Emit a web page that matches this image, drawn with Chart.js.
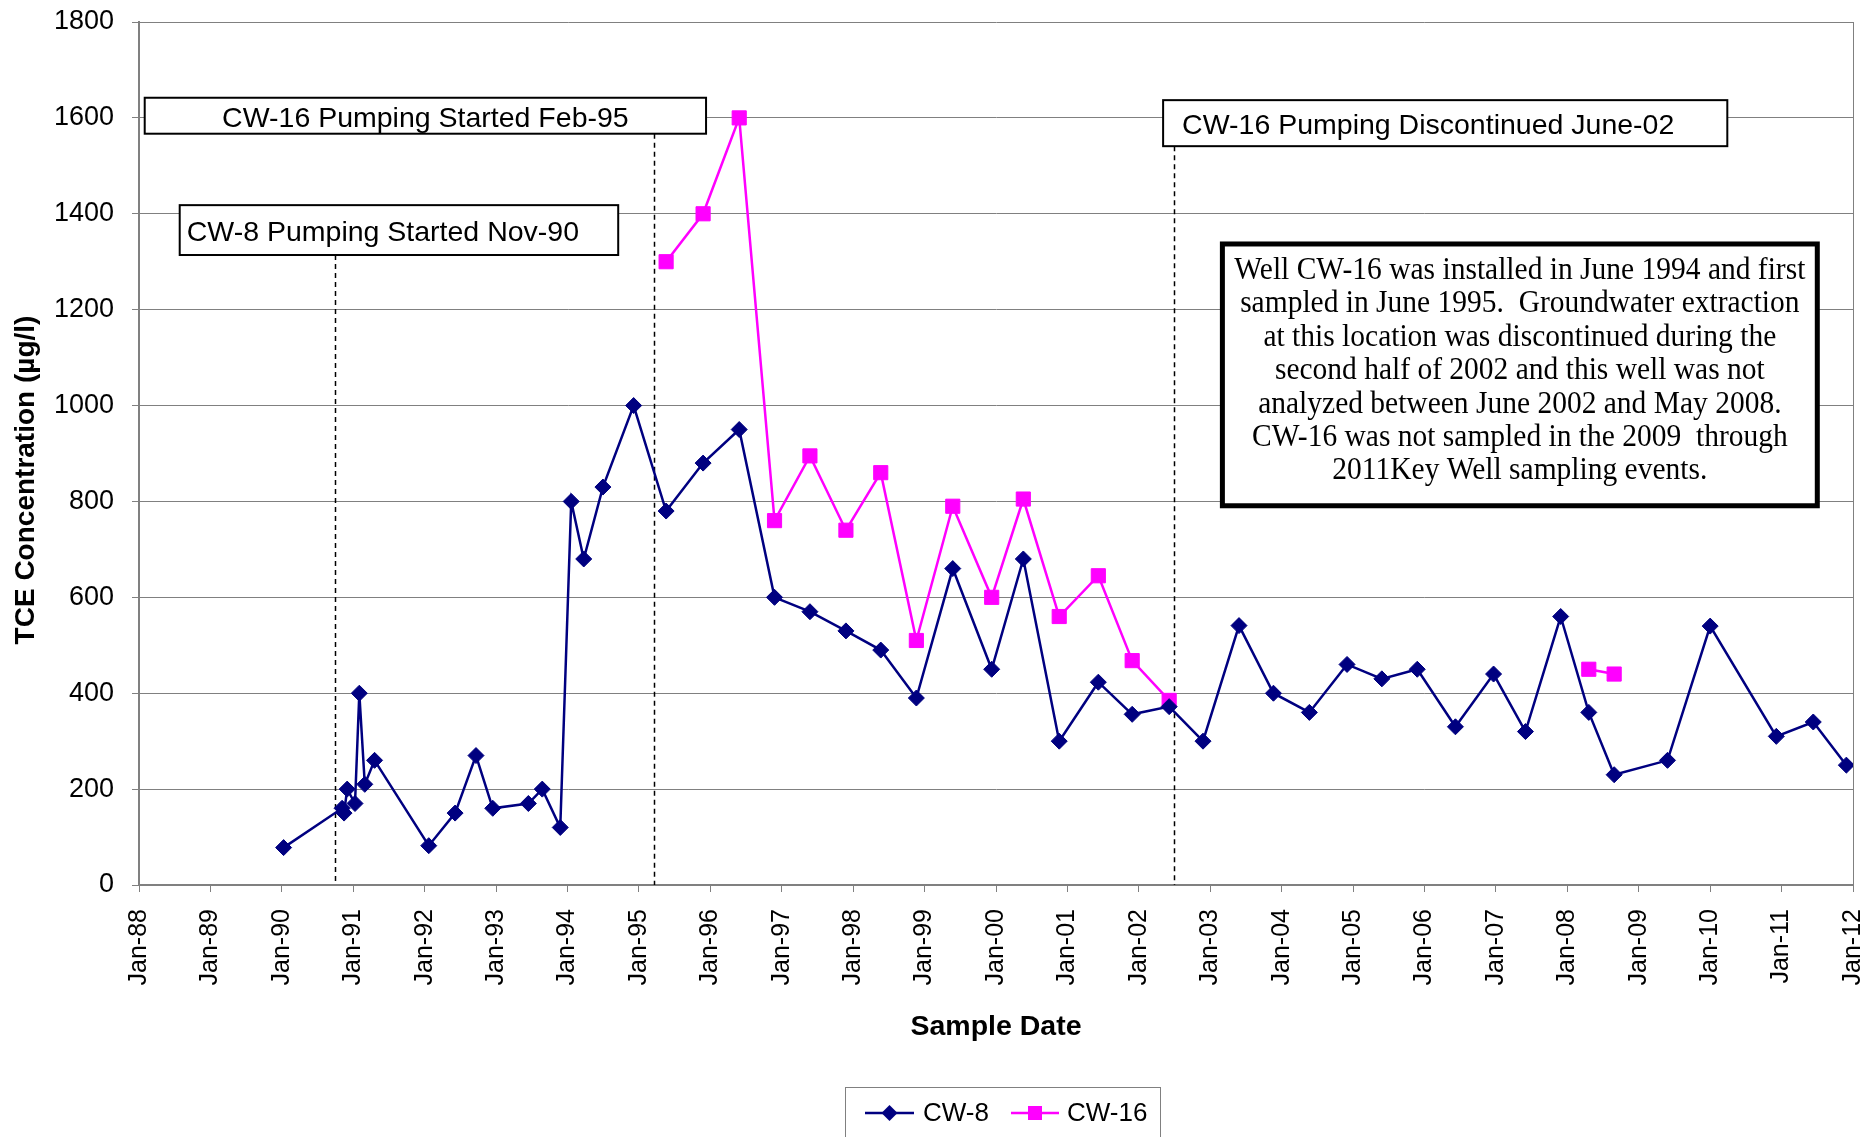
<!DOCTYPE html>
<html>
<head>
<meta charset="utf-8">
<title>TCE Concentration CW-8 / CW-16</title>
<script src="https://cdn.jsdelivr.net/npm/chart.js@4.4.1/dist/chart.umd.min.js"></script>
<style>
html, body { margin: 0; padding: 0; background: #fff; }
#wrap { width: 1866px; height: 1137px; position: relative; }
</style>
</head>
<body>
<div id="wrap"><canvas id="chart"></canvas></div>
<script>
// sample dates and TCE values (ug/l)
const cw8Dates = [
    '1990-01-10', '1990-11-05', '1990-11-15', '1990-12-01', '1991-01-10', '1991-02-01', '1991-03-01', '1991-04-20',
    '1992-01-22', '1992-06-05', '1992-09-20', '1992-12-15', '1993-06-15', '1993-08-25', '1993-11-25',
    '1994-01-20', '1994-03-25', '1994-07-01', '1994-12-05', '1995-05-20', '1995-11-25', '1996-05-28', '1996-11-25',
    '1997-05-25', '1997-11-25', '1998-05-22', '1998-11-20', '1999-05-25', '1999-12-10', '2000-05-20', '2000-11-20',
    '2001-06-08', '2001-11-28', '2002-06-05', '2002-11-25', '2003-05-28', '2003-11-20', '2004-05-22', '2004-12-01',
    '2005-05-28', '2005-11-25', '2006-06-08', '2006-12-20', '2007-06-01', '2007-11-28', '2008-04-20', '2008-08-28',
    '2009-05-28', '2010-01-01', '2010-12-05', '2011-06-12', '2011-11-28'
];
const cw8Values = [
    78, 160, 150, 200, 170, 400, 210, 260,
    82, 150, 270, 160, 170, 200, 120,
    800, 680, 830, 1000, 780, 880, 950, 600,
    570, 530, 490, 390, 660, 450, 680, 300,
    423, 356, 372, 300, 541, 400, 360, 460,
    430, 450, 330, 440, 320, 560, 360, 230,
    260, 540, 310, 340, 250
];

// CW-16 was not analysed between mid 2002 and 2008 -> null breaks the line
const cw16Dates = [
    '1995-05-20', '1995-11-25', '1996-05-28', '1996-11-25', '1997-05-25', '1997-11-25', '1998-05-22', '1998-11-20',
    '1999-05-25', '1999-12-10', '2000-05-20', '2000-11-20', '2001-06-08', '2001-11-28', '2002-06-05',
    '2005-06-01', '2008-04-20', '2008-08-28'
];
const cw16Values = [
    1300, 1400, 1600, 760, 895, 740, 860, 510,
    790, 600, 805, 560, 645, 468, 385,
    null, 450, 440
];

const xTickLabels = [
    'Jan-88', 'Jan-89', 'Jan-90', 'Jan-91', 'Jan-92', 'Jan-93', 'Jan-94', 'Jan-95', 'Jan-96', 'Jan-97',
    'Jan-98', 'Jan-99', 'Jan-00', 'Jan-01', 'Jan-02', 'Jan-03', 'Jan-04', 'Jan-05', 'Jan-06', 'Jan-07',
    'Jan-08', 'Jan-09', 'Jan-10', 'Jan-11', 'Jan-12'
];
const xFirstYear = 1988;
const yMin = 0, yMax = 1800, yStep = 200;

// pumping events (dashed lines) and their labels
const eventDates = ['1990-09-28', '1995-03-20', '2002-07-01'];
const eventLabels = ['CW-8 Pumping Started Nov-90', 'CW-16 Pumping Started Feb-95', 'CW-16 Pumping Discontinued June-02'];

const noteLines = [
    'Well CW-16 was installed in June 1994 and first',
    'sampled in June 1995.  Groundwater extraction',
    'at this location was discontinued during the',
    'second half of 2002 and this well was not',
    'analyzed between June 2002 and May 2008.',
    'CW-16 was not sampled in the 2009  through',
    '2011Key Well sampling events.'
];

const seriesNames = ['CW-8', 'CW-16'];
const seriesColors = ['#000080', '#FF00FF'];
const yTitle = 'TCE Concentration (µg/l)';

function toYear(s) {
    const [y, m, d] = s.split('-').map(Number);
    const t0 = Date.UTC(y, 0, 1), t1 = Date.UTC(y + 1, 0, 1);
    return y + (Date.UTC(y, m - 1, d) - t0) / (t1 - t0);
}

function toPoints(dates, values) {
    return dates.map((d, i) => ({ x: toYear(d), y: values[i] }));
}

const SANS = '"Liberation Sans", Arial, sans-serif';
const SERIF = '"Liberation Serif", "Times New Roman", serif';

// label boxes in data units (year / ug/l), same order as eventLabels
const labelBoxes = [
    { x1: 1988.57, x2: 1994.71, yTop: 1418, yBot: 1314, align: 'left', inset: 7 },
    { x1: 1988.08, x2: 1995.94, yTop: 1642, yBot: 1567, align: 'center', inset: 0 },
    { x1: 2002.34, x2: 2010.24, yTop: 1637, yBot: 1541, align: 'left', inset: 19 }
];
const noteBox = { x1: 2003.17, x2: 2011.50, yTop: 1337, yBot: 791 };

const annotations = {
    id: 'annotations',
    beforeDatasetsDraw(chart) {
        const { ctx, chartArea, scales: { x, y } } = chart;
        ctx.save();
        ctx.strokeStyle = '#000';
        ctx.lineWidth = 1.5;
        ctx.setLineDash([5, 4]);
        eventDates.forEach((d, i) => {
            const px = Math.round(x.getPixelForValue(toYear(d))) + 0.5;
            ctx.beginPath();
            ctx.moveTo(px, y.getPixelForValue(labelBoxes[i].yBot));
            ctx.lineTo(px, chartArea.bottom);
            ctx.stroke();
        });
        ctx.restore();
    },
    afterDatasetsDraw(chart) {
        const { ctx, scales: { x, y } } = chart;
        ctx.save();
        ctx.font = '28.5px ' + SANS;
        ctx.textBaseline = 'middle';
        labelBoxes.forEach((b, i) => {
            const l = x.getPixelForValue(b.x1), r = x.getPixelForValue(b.x2);
            const t = y.getPixelForValue(b.yTop), bt = y.getPixelForValue(b.yBot);
            ctx.fillStyle = '#fff';
            ctx.fillRect(l, t, r - l, bt - t);
            ctx.strokeStyle = '#000';
            ctx.lineWidth = 2;
            ctx.strokeRect(l, t, r - l, bt - t);
            ctx.fillStyle = '#000';
            ctx.textAlign = b.align;
            const tx = b.align === 'center' ? (l + r) / 2 : l + b.inset;
            ctx.fillText(eventLabels[i], tx, (t + bt) / 2 + 3);
        });

        // note box, tall serif text squeezed to the original line width
        const l = x.getPixelForValue(noteBox.x1), r = x.getPixelForValue(noteBox.x2);
        const t = y.getPixelForValue(noteBox.yTop), bt = y.getPixelForValue(noteBox.yBot);
        ctx.fillStyle = '#fff';
        ctx.fillRect(l, t, r - l, bt - t);
        ctx.strokeStyle = '#000';
        ctx.lineWidth = 5;
        ctx.strokeRect(l, t, r - l, bt - t);
        ctx.font = '31px ' + SERIF;
        ctx.fillStyle = '#000';
        ctx.textAlign = 'center';
        ctx.textBaseline = 'alphabetic';
        const stretch = 571 / ctx.measureText(noteLines[0]).width;
        const cx = (l + r) / 2;
        noteLines.forEach((line, i) => {
            ctx.save();
            ctx.translate(cx, t + 35 + i * 33.4);
            ctx.scale(stretch, 1);
            ctx.fillText(line, 0, 0);
            ctx.restore();
        });
        ctx.restore();
    },
    afterDraw(chart) {
        const { ctx } = chart;
        ctx.save();
        // y axis title, sits a little below the middle of the plot like the original
        ctx.translate(26, 480);
        ctx.rotate(-Math.PI / 2);
        ctx.font = 'bold 28px ' + SANS;
        ctx.fillStyle = '#000';
        ctx.textAlign = 'center';
        ctx.textBaseline = 'middle';
        ctx.fillText(yTitle, 0, 0);
        ctx.restore();

        // legend box below the axis title
        ctx.save();
        ctx.strokeStyle = '#808080';
        ctx.lineWidth = 1;
        ctx.strokeRect(845.5, 1087.5, 315, 60);
        ctx.font = '26px ' + SANS;
        ctx.textBaseline = 'middle';
        ctx.textAlign = 'left';
        const cy = 1113;
        const items = [{ x0: 865, x1: 914, tx: 923 }, { x0: 1011, x1: 1059, tx: 1067 }];
        items.forEach((it, i) => {
            const c = seriesColors[i];
            ctx.strokeStyle = c;
            ctx.fillStyle = c;
            ctx.lineWidth = 2.5;
            ctx.beginPath();
            ctx.moveTo(it.x0, cy);
            ctx.lineTo(it.x1, cy);
            ctx.stroke();
            const mx = (it.x0 + it.x1) / 2;
            ctx.beginPath();
            if (i === 0) {
                ctx.moveTo(mx - 8, cy); ctx.lineTo(mx, cy - 8); ctx.lineTo(mx + 8, cy); ctx.lineTo(mx, cy + 8);
                ctx.closePath();
            } else {
                ctx.rect(mx - 7, cy - 7, 14, 14);
            }
            ctx.fill();
            ctx.fillStyle = '#000';
            ctx.fillText(seriesNames[i], it.tx, cy + 1);
        });
        ctx.restore();
    }
};

const whiteBg = {
    id: 'whiteBg',
    beforeDraw(chart) {
        const { ctx, width, height } = chart;
        ctx.save();
        ctx.fillStyle = '#fff';
        ctx.fillRect(0, 0, width, height);
        ctx.restore();
    }
};

function init() {
    const ctx = document.getElementById('chart');
    new Chart(ctx, {
        type: 'line',
        data: {
            datasets: [
                {
                    label: seriesNames[0], data: toPoints(cw8Dates, cw8Values),
                    borderColor: seriesColors[0], backgroundColor: seriesColors[0],
                    borderWidth: 2.5, pointStyle: 'rectRot', pointRadius: 8, pointBorderWidth: 1, tension: 0
                },
                {
                    label: seriesNames[1], data: toPoints(cw16Dates, cw16Values),
                    borderColor: seriesColors[1], backgroundColor: seriesColors[1],
                    borderWidth: 2.5, pointStyle: 'rect', pointRadius: 10, pointBorderWidth: 1, tension: 0,
                    spanGaps: false
                }
            ]
        },
        options: {
            responsive: true,
            maintainAspectRatio: false,
            animation: false,
            layout: { padding: { left: 8, right: 13, top: 22, bottom: 77 } },
            plugins: { legend: { display: false }, tooltip: { enabled: false } },
            scales: {
                x: {
                    type: 'linear',
                    min: xFirstYear,
                    max: xFirstYear + xTickLabels.length - 1,
                    afterFit: s => { s.height = 175; s.paddingLeft = 0; s.paddingRight = 0; },
                    ticks: {
                        stepSize: 1, autoSkip: false, minRotation: 90, maxRotation: 90, padding: 17,
                        color: '#000', font: { family: SANS, size: 25 },
                        callback: v => xTickLabels[Math.round(v - xFirstYear)]
                    },
                    grid: {
                        drawOnChartArea: true, tickLength: 7, tickColor: '#808080', lineWidth: 1,
                        color: c => (c.tick && c.tick.value === xFirstYear + xTickLabels.length - 1) ? '#808080' : 'rgba(0,0,0,0)'
                    },
                    border: { display: true, color: '#808080', width: 2 },
                    title: {
                        display: true, text: 'Sample Date', color: '#000',
                        font: { family: SANS, size: 28.5, weight: 'bold' }, padding: { top: 0, bottom: 16 }
                    }
                },
                y: {
                    min: yMin, max: yMax,
                    afterFit: s => { s.width = 131; s.paddingTop = 0; s.paddingBottom = 0; },
                    ticks: {
                        stepSize: yStep, padding: 18, color: '#000', font: { family: SANS, size: 27 },
                        callback: v => String(v)
                    },
                    grid: { color: '#808080', lineWidth: 1, tickLength: 7 },
                    border: { display: true, color: '#808080', width: 2 }
                }
            }
        },
        plugins: [whiteBg, annotations]
    });
}

document.addEventListener('DOMContentLoaded', init);
</script>
</body>
</html>
